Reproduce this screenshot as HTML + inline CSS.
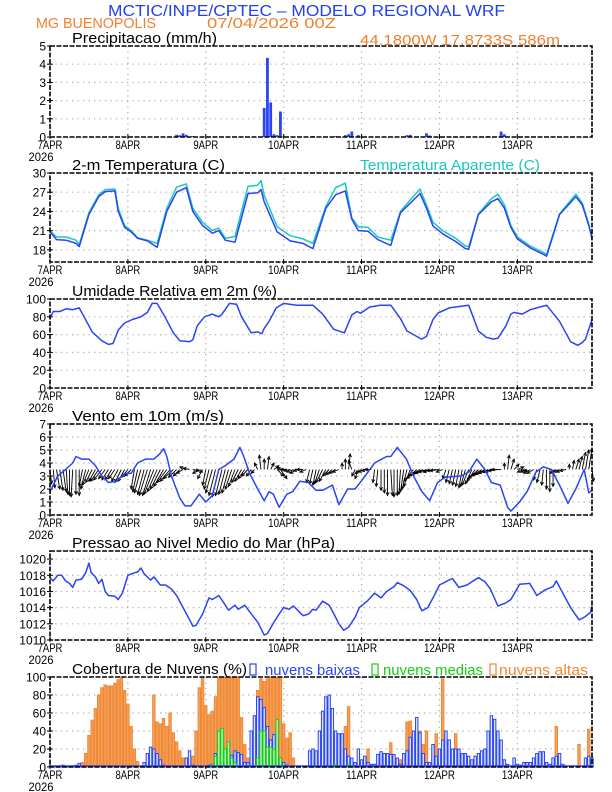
<!DOCTYPE html>
<html><head><meta charset="utf-8"><style>
html,body{margin:0;padding:0;background:#fff;}
svg{display:block;font-family:"Liberation Sans",sans-serif;}
</style></head><body>
<svg id="chart" width="612" height="792" viewBox="0 0 612 792" xmlns="http://www.w3.org/2000/svg">
<rect x="0" y="0" width="612" height="792" fill="#fff"/>
<text x="108" y="16" font-size="16" fill="#2440f0" textLength="397" lengthAdjust="spacingAndGlyphs">MCTIC/INPE/CPTEC – MODELO REGIONAL WRF</text>
<text x="36" y="28" font-size="15" fill="#f08030" textLength="120" lengthAdjust="spacingAndGlyphs">MG BUENOPOLIS</text>
<text x="207" y="28" font-size="15" fill="#f08030" textLength="129" lengthAdjust="spacingAndGlyphs">07/04/2026 00Z</text>
<text x="360" y="45" font-size="15" fill="#f08030" textLength="200" lengthAdjust="spacingAndGlyphs">44.1800W 17.8733S 586m</text>
<g id="panels"></g>
</svg>
<script>
// ---- data (hours since 07APR 00Z) ----
const dayLabels = ["7APR","8APR","9APR","10APR","11APR","12APR","13APR"];
const precipHours = [39,40,41,42,44,66,67,68,69,70,71,81,88,91,92,93,95,110,111,116,117,135,139,140];
const precipVals  = [0.12,0.1,0.2,0.12,0.05,1.6,4.35,1.9,0.15,0.1,1.4,0.05,0.05,0.1,0.15,0.3,0.1,0.1,0.12,0.2,0.08,0.05,0.3,0.15];
const tempHours = [0,2,5,8,9,12,15,17,20,21,23,25,27,30,33,36,39,42,44,47,50,52,54,57,61,64,65,66,70,74,78,81,85,88,91,93,95,98,101,105,108,111,114,116,118,121,125,128,129,132,136,138,140,142,144,148,152,153,157,162,164,166,167];
const tempVals = [20.8,19.6,19.5,19.0,18.5,23.5,26.3,27.1,27.2,24,21.5,20.8,19.8,19.4,18.4,24,27,27.7,24,21.8,20.6,21.0,19.5,19.2,26.8,26.9,27.4,25.5,20.8,19.4,19.0,18.2,24.5,26.6,27.2,22.8,21.0,20.9,19.6,18.7,23.8,25.3,26.8,24.5,21.7,20.5,19.3,18.2,18.1,23.5,25.5,26.0,24.5,21.5,19.7,18.3,17.3,17.0,23.5,26.3,25.0,21.8,19.8];
const tempApp = [21.0,20.0,20.0,19.5,18.8,23.8,26.6,27.4,27.5,24.5,21.8,21.0,19.9,19.5,19.0,24.5,27.8,28.3,24.5,22.3,21.0,21.4,19.8,20.1,27.9,28.1,28.8,26.5,21.6,20.2,19.7,19.0,24.8,27.7,28.4,23.0,21.6,21.5,20.0,19.5,24.0,25.8,27.5,25.0,22.3,21.0,19.8,18.6,18.5,23.6,26.0,26.7,25.0,21.8,20.0,18.6,17.6,17.3,23.6,26.7,25.3,22.0,19.8];
const rhHours = [0,1,3,5,7,9,10.5,13,16,18,19.4,20.5,21,23,25.4,28,30,31.5,33,35.4,38,40,43,44,45.4,47.6,50,52,53,55.3,57.5,59,62,64,65.3,66,67.5,69.7,72,76,81,84,87.4,90.7,93,94.6,95.7,98.5,101.8,105,108,110,112,114.5,116,118,119.5,123,125,129,132,134.4,136.6,138,140.5,142,143,145.5,148,150,153,157,160.4,162.6,164,165,167];
const rhVals = [78,86,86,89,88,90,80,63,53,49,50,60,65,73,77,80,85,95,95,80,62,53,52,54,70,80,83,80,83,95,94,80,62,63,61,67,75,90,95,93,93,83,66,62,82,86,84,91,93,93,78,64,60,55,58,77,84,90,91,93,64,57,55,56,70,83,85,83,88,90,93,75,52,48,51,55,77];
const windHours = [0,2.4,4.8,7,8,9.7,12,14,16,18,20.5,23,25,27,29.5,32,33.8,35,36,37.4,40,41.6,43.4,46,48,50,52,54,56.7,58.5,59.7,61.5,64,66,67.5,68.8,70.6,73,74.8,77,79.6,82,84,87,89,91.7,94,96.5,100,103.7,105,107,109.8,112,114.6,117,119.4,121.8,126.7,129,131.5,134,136,138.7,141,142,144.7,147,149.7,152,154.5,157,159.6,162,164.6,166,167];
const windSpeed = [1.8,3.0,3.5,4.0,4.5,4.3,4.3,3.8,3.0,2.5,2.6,3.2,3.2,4.0,4.3,4.3,4.7,5.1,4.5,3.0,1.3,0.7,0.7,1.6,1.0,1.5,3.5,3.8,4.3,5.2,4.5,3.2,2.0,1.1,1.8,1.6,0.6,1.6,1.8,2.6,2.5,1.9,1.9,2.3,0.8,2.0,2.0,2.8,4.0,4.5,4.5,5.2,4.3,3.0,1.8,1.1,2.5,2.9,3.0,3.3,4.3,3.5,2.5,2.3,0.6,0.3,1.0,1.8,3.3,3.7,3.5,2.3,0.9,2.0,3.5,1.7,1.9];
const windTipY = [2.4,2.1,2.0,1.9,1.8,1.6,1.5,1.4,1.6,1.5, 2.2,2.0,2.3,2.5,2.6,2.6,2.7,2.8,2.7,2.7, 2.8,2.6,2.5,2.6,2.9,3.0, 2.0,1.8,1.7,1.6,1.5,1.5,1.6,1.8,2.0,2.2, 2.5,2.6,2.8,2.9,3.0,3.2, 3.7,3.6,3.4,3.3,3.2,2.8, 2.3,2.0,1.7,1.5,1.4,1.5,1.6,1.7,2.0,2.2, 2.5,2.6,2.8,3.0,3.0,3.2, 4.0,4.6,4.3,4.5,4.0,3.8,3.0,2.8, 3.6,3.5,3.4,3.3,3.2,3.4,3.5,3.3, 2.5,2.4,2.3,2.4,2.5,2.6, 3.0,3.1,3.2,3.3, 4.0,4.3,4.7,4.2, 3.0,2.8,3.2,3.3,3.4,3.5, 2.5,2.2,1.9,1.7,1.5,1.5,1.4,1.5,1.6,1.8,2.0,2.2, 2.6,2.8,3.0,3.1,3.2,3.3,3.3,3.4,3.4,3.3, 2.8,2.5,2.4,2.3,2.2,2.1,2.2,2.3,2.4,2.6, 2.8,3.0,3.1,3.2,3.3,3.3,3.4,3.5, 4.0,4.6,4.3,3.9,3.7,3.4, 3.3,3.3,3.2,3.2, 2.7,2.5,2.3,2.0,1.8,2.2, 3.2,3.3,3.3,3.4, 3.9,4.2,4.3,4.5,4.8,5.0,5.1,2.6];
const windTipDX = [0.5,0.5,1,1,1,0.5,0,-0.5,0,0, -1,-1.5,-2,-2,-2,-2.5,-2.5,-2,-2,-2, -2,-2,-2,-2,-2,-2, -1,-1.5,-2,-2,-2.5,-2.5,-3,-3,-3,-3, -3,-3,-3,-2.5,-2,-2, -2,-2,2,2,-2,-1.5, -1,-1.5,-2,-2,-2,-2,-2,-2,-2,-2, -2,-2,-2,-2,-1.5,-1, -1,-0.5,0,0.5,1,1.5,2,2, -2,-2,-2,-2,-2,-2,-2,-2, -1,-1,-1,-1.5,-2,-2, -2,-2,-2,-2, 0,0,0.5,-1, -1,-1,-2,-2,-2,-2, -0.5,-0.5,0,0,0,0.5,0,0,-0.5,-1,-1.5,-2, -3,-3,-3.5,-3.5,-3.5,-3.5,-3,-3,-3,-2, -1,-1,-1,-1,-1,-1,-1.5,-2,-2,-2.5, -3,-3,-3,-3,-3,-3,-3,-3, 0,0.5,1,1.5,2,2, -2,-2,-2,-2, -1,-1,-0.5,0,0,0, -2,-2,-2,-2, 0,0.5,1,1,1,1,1,0.5];
const presHours = [0,1,2.4,3.6,4.8,6,7,8,9.7,11,12,12.7,14,15,16,17,18,20,21,22.3,24,26,27,28,29,31,32,34,35.6,37.4,39,41,43,44,45,47,49,50,52,53.7,55,57,58,60,61.5,64,66,67,69,70.6,72,73.6,75,78,79.6,81,82,84,86,87.5,89,90.5,92,94,95.3,97.7,100,102,103.7,106,107,109,111,113,114.6,116.4,118,120,122.4,124,126,128.5,130,132,134,135.7,138,140.5,142,144.7,147.8,150,152.6,155,156,158,160.4,163,164.6,166.5,167];
const presVals = [1017.7,1017.3,1018.0,1018.0,1017.3,1017.0,1016.5,1017.4,1017.5,1018.3,1019.5,1018.3,1017.8,1017.0,1017.5,1016.0,1015.5,1015.4,1015.0,1015.8,1018.0,1018.3,1018.4,1018.9,1018.2,1017.4,1017.8,1016.8,1016.8,1016.3,1015.5,1014.0,1012.5,1011.7,1011.8,1013.2,1015.2,1015.0,1015.5,1014.5,1013.7,1014.3,1013.8,1014.3,1013.5,1012.2,1010.6,1010.8,1012.2,1013.2,1014.0,1013.8,1014.2,1013.0,1013.2,1013.8,1013.7,1014.8,1014.3,1013.2,1012.0,1011.2,1011.6,1012.8,1014.0,1014.8,1015.8,1015.2,1016.0,1016.6,1017.1,1016.7,1016.1,1015.0,1013.6,1014.0,1015.2,1016.8,1017.3,1017.6,1016.5,1016.8,1017.2,1017.7,1017.2,1016.3,1014.2,1014.6,1015.0,1016.9,1017.0,1015.5,1016.2,1016.6,1017.3,1015.8,1014.0,1012.5,1012.8,1013.4,1014.2];
const cloudHigh = [0,0,0,0,0,0,0,0,0,0, 5,15,35,52,65,80,88,91,90,90,93,97,100,85,70,45,20,6, 0,0,0, 22,80,50,48,54,45,60,38,28,18,10,3, 5,12,40,88,100,68,58,62,78,100,100,100,100,100,100,100,55,25,10, 0, 55,85,98,95,98,100,100,100,100,48,32,38,10, 0,0,0,0,0,0,0,0,0,0,0,0,0, 10,18,45,67,5, 0,0,0,0, 20, 0,0,0,0,0,0, 27, 0,0,8,0, 50,51,30,10,40,25,40, 0,15, 37,10,98, 5,12,0,37, 0,0,0,0,0,0,0,0,0,0,0,0,0,0,0,0,0,0,0,0,0,0,0,0,0,0,0,0,0, 10,45,0, 0,0,0,0, 0,25,0,0,42,0];
const cloudLow = [1,1,0,1,2,1,1,1, 2,4, 0,0,0,0,0,0,0,0,0,0,0,0,0,0,0,0,0,0,0, 5,15,22,20,15,8,2, 0,0,0,0,0,0, 10,18,2, 0,0,0,0,2, 3,15,3,8,5,10,13,18,16,14,5,5, 40,57,78,75,66,45,30,36,25,10,5,2, 0,0,0,0,0,0, 18,20,18,40,62,78,80,65,40,37, 37,20,12,10,5,20,8,12,5,3, 3,14,17,15,15,14,14,10,3,15, 18,33,40,55,38,15,5,5,25,12, 20,30,40,30,20,20,20,15,15,12, 8,12,15,18,20,40,57,53,40,30, 8,3,0,10,3,2,5,5,5,10, 15,17,17,5,3,10,12,15,3,0, 0,0,0,0,0,10,12,10];
const cloudMid = [0,0,0,0,0,0,0,0,0,0,0,0,0,0,0,0,0,0,0,0,0,0,0,0,0,0,0,0,0,0,0,0,0,0,0,0,0,0,0,0,0,0,0,0,0,0,0,0,0,0, 3,12,40,43,20,28,10,5, 0,0,0,0,0,0, 10,40,40,22,22,20,53,10,2, 0,0,0,0,0,0,0,0,0,0,0,0,0,0,0,3,0,0,0,3,0,0,0,0,0,0,0,0,0,0,0,0,0,0,0,0,0,0,0,0,0,0,0,0,0,0,0,0,0,0,0,0,0,0,0,0,0,0,0,0,0,0,0,0,0,0,0,0,0,0,0,0,0,0,0,0,0,0,0,0,0,0,0,0,0,0,0,0,0,0];

// ---- layout ----
const NS = "http://www.w3.org/2000/svg";
const X0 = 50, X1 = 592, HMAX = 167;
const BLUE = "#2a44f5", CYAN = "#18c8c0", ORANGE = "#f08830", GREEN = "#10d010";
function xs(h){ return X0 + h * (X1 - X0) / HMAX; }
const root = document.getElementById("panels");
function el(tag, attrs, parent){
  const e = document.createElementNS(NS, tag);
  for (const k in attrs) e.setAttribute(k, attrs[k]);
  (parent || root).appendChild(e);
  return e;
}
function txt(s, x, y, size, fill, anchor, len, parent){
  const t = el("text", {x:x, y:y, "font-size":size, fill:fill, "text-anchor":anchor||"start"}, parent);
  if (len){ t.setAttribute("textLength", len); t.setAttribute("lengthAdjust","spacingAndGlyphs"); }
  t.textContent = s;
  return t;
}
function panel(name, top, bot, ymin, ymax, ticks, tickLabels, title, titleLen){
  const g = el("g", {});
  
  
  const ys = v => bot - (v - ymin) / (ymax - ymin) * (bot - top);
  for (let d = 1; d < 7; d++){
    const l = el("line", {x1:xs(d*24), x2:xs(d*24), y1:top, y2:bot, stroke:"#aaa", "stroke-width":1.2, "stroke-dasharray":"1.2,4.3"}, g);
    
    
  }
  ticks.forEach((v, i) => {
    if (v > ymin && v < ymax){
      const l = el("line", {x1:X0, x2:X1, y1:ys(v), y2:ys(v), stroke:"#aaa", "stroke-width":1.2, "stroke-dasharray":"1.2,4.3"}, g);
      
      
    }
    const tl = txt(tickLabels[i], 46, ys(v) + 4.5, 12, "#000", "end", null, g);
    
    
    const tk = el("line", {x1:X0-3, x2:X0+3, y1:ys(v), y2:ys(v), stroke:"#000", "stroke-width":1}, g);
    
    
  });
  dayLabels.forEach((s, d) => {
    const t = txt(s, xs(d*24), bot + 12, 12, "#000", "middle", s.length * 6.2, g);
    
    
    const tk = el("line", {x1:xs(d*24), x2:xs(d*24), y1:bot-3, y2:bot+2, stroke:"#000", "stroke-width":1}, g);
    
    
  });
  const yr = txt("2026", 41, bot + 24, 12, "#000", "middle", 25, g);
  
  
  const tt = txt(title, 72, top - 3, 15, "#000", "start", titleLen, g);
  
  
  return {g, ys, top, bot};
}
function frame(p){
  const r = el("rect", {x:X0, y:p.top, width:X1-X0, height:p.bot-p.top, fill:"none", stroke:"#000", "stroke-width":1.6, "stroke-dasharray":"5,1.5"}, p.g);
  
  
}
function line(p, hours, vals, color, name){
  const d = hours.map((h, i) => (i ? "L" : "M") + xs(h).toFixed(1) + "," + p.ys(vals[i]).toFixed(1)).join(" ");
  const e = el("path", {d:d, fill:"none", stroke:color, "stroke-width":1.5, "stroke-linejoin":"round"}, p.g);
  
  
}

// Precip
const pP = panel("precipitation", 46, 137, 0, 5, [0,1,2,3,4,5], ["0","1","2","3","4","5"], "Precipitacao (mm/h)", 145);
precipHours.forEach((h, i) => {
  const y = pP.ys(precipVals[i]);
  const b = el("rect", {x:xs(h)-1.4, y:y, width:2.8, height:pP.bot - y, fill:BLUE}, pP.g);
  
  
});
frame(pP);

// Temperature
const pT = panel("temperature", 173, 262, 16.1, 30, [18,21,24,27,30], ["18","21","24","27","30"], "2-m Temperatura (C)", 153);
const at = txt("Temperatura Aparente (C)", 360, 170, 15, CYAN, "start", 180, pT.g);


line(pT, tempHours, tempApp, CYAN, "apparent-temperature-line");
line(pT, tempHours, tempVals, BLUE, "temperature-line");
frame(pT);

// Humidity
const pH = panel("humidity", 299, 388, 0, 100, [0,20,40,60,80,100], ["0","20","40","60","80","100"], "Umidade Relativa em 2m (%)", 205);
line(pH, rhHours, rhVals, BLUE, "humidity-line");
frame(pH);

// Wind
const pW = panel("wind", 424, 515, 0, 7, [0,1,2,3,4,5,6,7], ["0","1","2","3","4","5","6","7"], "Vento em 10m (m/s)", 152);
windTipY.forEach((ty, h) => {
  const x1 = xs(h), y1 = pW.ys(3.5), x2 = xs(h + windTipDX[h]), y2 = pW.ys(ty);
  const a = el("g", {}, pW.g);
  
  
  el("line", {x1:x1, y1:y1, x2:x2, y2:y2, stroke:"#000", "stroke-width":0.9}, a);
  const ang = Math.atan2(y2 - y1, x2 - x1), L = 3.5;
  const p1 = [x2 - L*Math.cos(ang - 0.45), y2 - L*Math.sin(ang - 0.45)];
  const p2 = [x2 - L*Math.cos(ang + 0.45), y2 - L*Math.sin(ang + 0.45)];
  el("path", {d:"M"+p1[0]+","+p1[1]+" L"+x2+","+y2+" L"+p2[0]+","+p2[1], fill:"none", stroke:"#000", "stroke-width":0.9}, a);
});
line(pW, windHours, windSpeed, BLUE, "wind-speed-line");
frame(pW);

// Pressure
const pPr = panel("pressure", 551, 640, 1010, 1021, [1010,1012,1014,1016,1018,1020], ["1010","1012","1014","1016","1018","1020"], "Pressao ao Nivel Medio do Mar (hPa)", 263);
line(pPr, presHours, presVals, BLUE, "pressure-line");
frame(pPr);

// Clouds
const pC = panel("cloud-cover", 677, 767, 0, 100, [0,20,40,60,80,100], ["0","20","40","60","80","100"], "Cobertura de Nuvens (%)", 175);
function bars(arr, fill, stroke, name){
  arr.forEach((v, h) => {
    if (v <= 0) return;
    const y = pC.ys(v);
    const b = el("rect", {x:xs(h)-1.2, y:y, width:2.4, height:pC.bot - y, fill:fill, stroke:stroke, "stroke-width":1}, pC.g);
    
    
  });
}
bars(cloudHigh, "#f5a060", ORANGE, "high-cloud-bar");
bars(cloudLow, "#dfe6ff", BLUE, "low-cloud-bar");
bars(cloudMid, "#c8f0c8", GREEN, "mid-cloud-bar");
const bl = el("line", {x1:X0, x2:X1, y1:pC.bot-1, y2:pC.bot-1, stroke:BLUE, "stroke-width":1.5}, pC.g);


frame(pC);
const legend = [["nuvens baixas", BLUE, 250, 265, 95], ["nuvens medias", GREEN, 372, 383, 100], ["nuvens altas", ORANGE, 490, 499, 89]];
legend.forEach(l => {
  const g = el("g", {}, pC.g);
  
  
  el("rect", {x:l[2], y:664, width:6, height:11, fill:"none", stroke:l[1], "stroke-width":1.2}, g);
  txt(l[0], l[3], 675, 15, l[1], "start", l[4], g);
});
</script>
</body></html>
